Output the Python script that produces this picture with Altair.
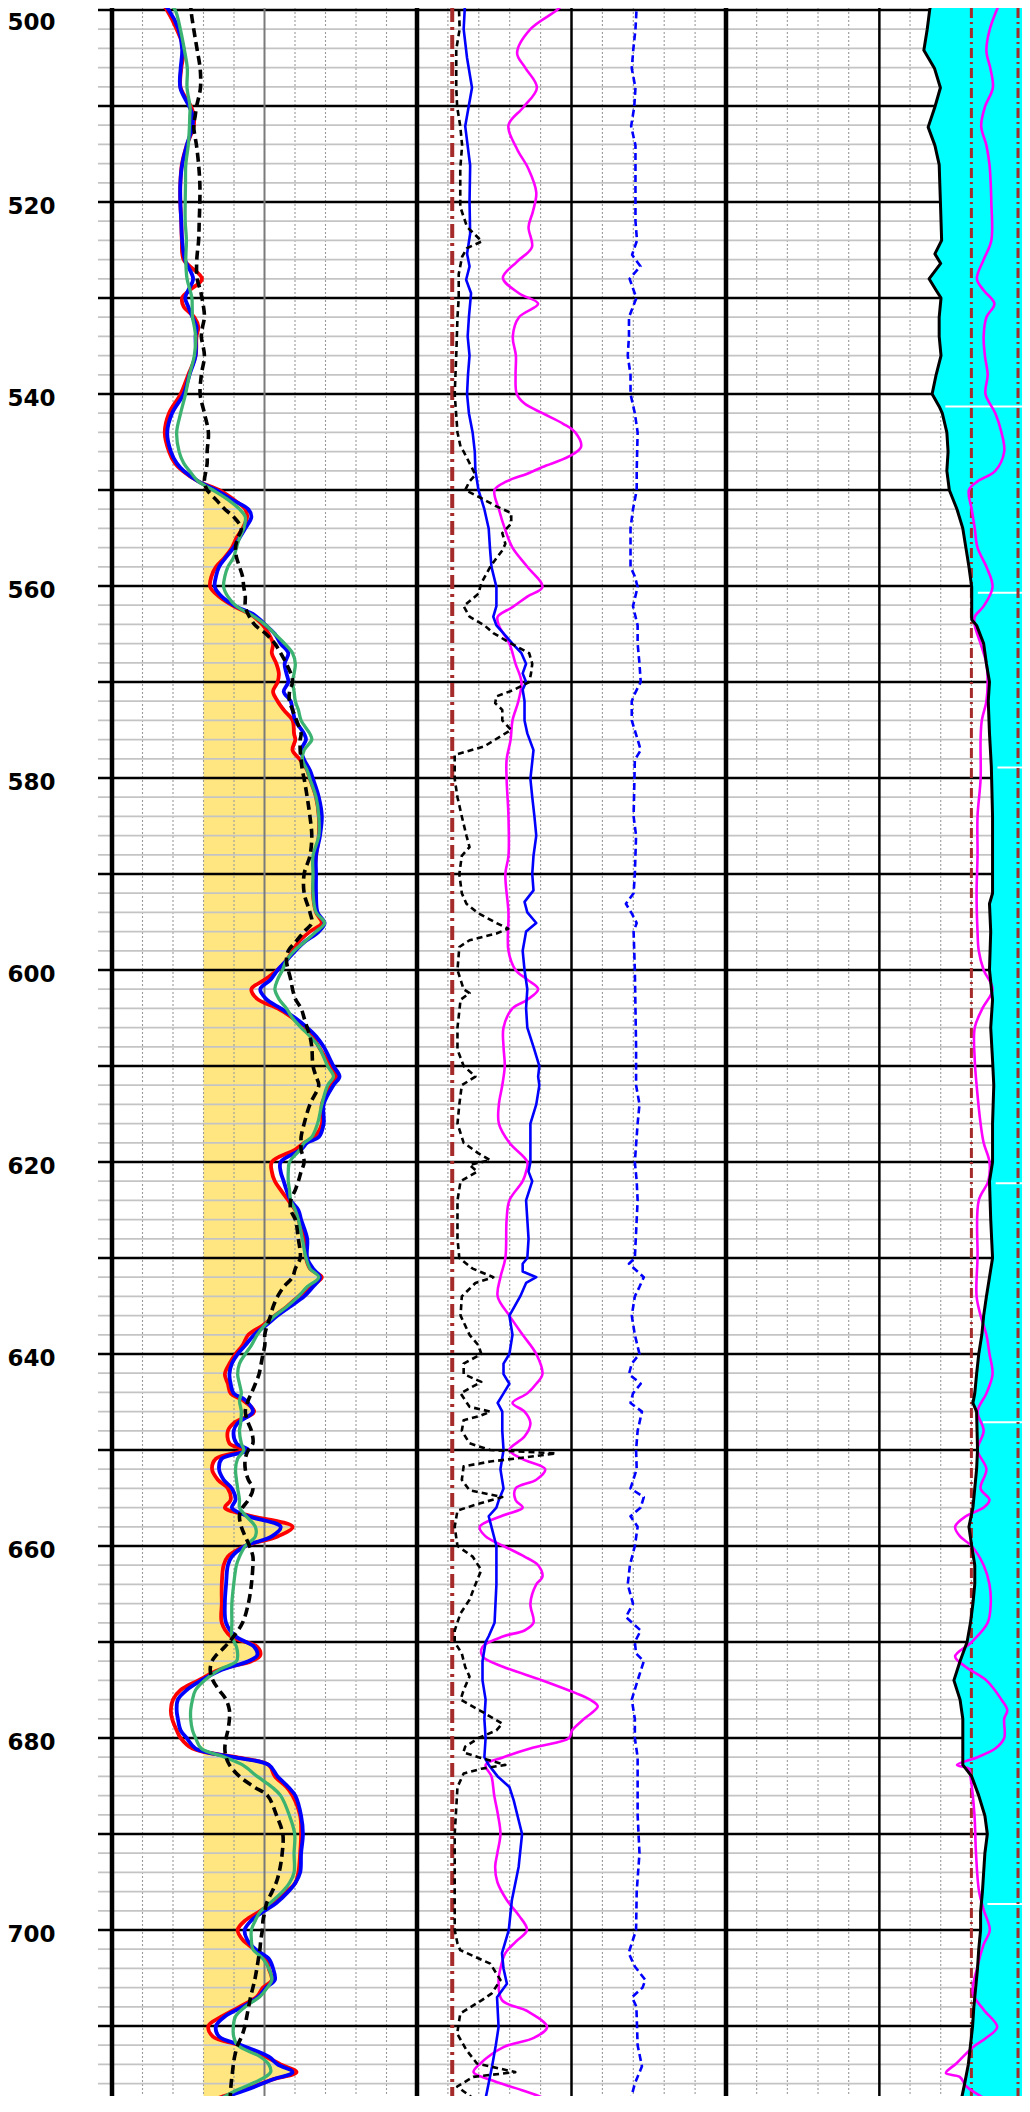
import altair as alt
import numpy as np
import pandas as pd

# ------------------------------------------------------------------
# Log readings. Values are in chart divisions (0-10 across each track).
# ------------------------------------------------------------------
T1_DEPTH = [499.0, 500.0, 502.0, 504.1, 506.1, 508.1, 510.1, 511.0, 512.1, 514.1,
            516.1, 518.1, 520.0, 522.0, 524.0, 526.0, 528.0, 529.2, 530.0, 530.9,
            532.0, 533.0, 534.0, 536.0, 538.0, 540.0, 542.0, 544.0, 546.0, 547.2,
            548.0, 549.1, 550.0, 551.0, 552.0, 552.8, 554.0, 555.0, 556.0, 557.0,
            558.0, 559.0, 560.1, 561.1, 562.1, 563.0, 564.1, 565.0, 566.0, 567.0,
            568.1, 569.1, 570.0, 571.0, 572.0, 572.9, 574.0, 575.4, 576.0, 577.1,
            578.1, 579.2, 580.1, 582.0, 584.0, 586.0, 588.1, 590.0, 592.0, 594.0,
            595.1, 596.0, 597.1, 598.0, 599.0, 600.0, 601.0, 602.0, 603.0, 604.0,
            605.0, 606.0, 606.9, 608.0, 610.0, 611.1, 612.0, 614.0, 616.0, 617.4,
            618.0, 618.7, 620.0, 621.0, 622.0, 622.9, 624.0, 625.0, 626.0, 628.0,
            630.0, 631.1, 632.0, 633.0, 634.0, 635.1, 636.0, 637.0, 638.0, 639.1,
            640.0, 641.0, 642.1, 643.1, 644.1, 644.8, 646.0, 647.2, 648.0, 649.3,
            650.0, 650.9, 652.0, 653.1, 654.0, 655.2, 656.0, 656.8, 658.0, 659.0,
            660.0, 661.1, 662.0, 664.0, 666.0, 668.0, 669.4, 670.5, 671.4, 672.0,
            672.9, 674.0, 675.0, 676.0, 677.1, 678.0, 679.2, 680.0, 681.1, 682.0,
            682.8, 684.0, 685.1, 686.0, 688.1, 690.0, 692.0, 694.0, 695.1, 696.0,
            697.2, 698.1, 699.0, 700.0, 701.0, 702.0, 703.0, 704.0, 705.2, 706.0,
            706.9, 708.0, 709.0, 710.0, 711.1, 712.0, 713.2, 714.0, 714.8, 715.6,
            716.7, 717.7, 718.75]

T1_RED = [1.58, 1.80, 2.12, 2.35, 2.27, 2.25, 2.60, 2.68, 2.68, 2.45,
          2.29, 2.24, 2.24, 2.27, 2.29, 2.35, 2.95, 2.54, 2.30, 2.35,
          2.70, 2.83, 2.77, 2.74, 2.50, 2.25, 1.87, 1.73, 1.87, 2.06,
          2.31, 2.83, 3.51, 3.99, 4.37, 4.43, 4.28, 4.08, 3.93, 3.70,
          3.41, 3.26, 3.22, 3.51, 3.99, 4.57, 4.95, 5.14, 5.28, 5.24,
          5.39, 5.47, 5.43, 5.28, 5.43, 5.63, 5.92, 5.97, 6.01, 5.92,
          6.17, 6.40, 6.49, 6.69, 6.78, 6.78, 6.69, 6.63, 6.59, 6.69,
          6.88, 6.49, 6.11, 5.92, 5.72, 5.43, 5.01, 4.57, 4.76, 5.43,
          5.92, 6.30, 6.59, 6.78, 7.17, 7.36, 7.17, 6.88, 6.88, 6.63,
          6.30, 6.01, 5.24, 5.24, 5.34, 5.53, 5.78, 6.01, 6.11, 6.30,
          6.36, 6.49, 6.88, 6.49, 6.11, 5.72, 5.34, 4.95, 4.47, 4.28,
          4.05, 3.85, 3.70, 3.80, 3.89, 4.28, 4.66, 3.99, 3.80, 3.85,
          4.28, 3.41, 3.28, 3.47, 3.80, 3.89, 3.70, 4.47, 5.92, 5.43,
          4.37, 3.80, 3.66, 3.60, 3.60, 3.60, 3.89, 4.76, 4.86, 4.57,
          3.51, 2.83, 2.25, 2.00, 1.93, 1.97, 2.12, 2.25, 2.64, 4.08,
          5.14, 5.34, 5.72, 5.92, 6.17, 6.20, 6.17, 6.11, 6.01, 5.72,
          5.24, 4.82, 4.37, 4.12, 4.28, 4.66, 5.05, 5.14, 5.24, 4.95,
          4.76, 4.18, 3.60, 3.16, 3.31, 4.18, 5.05, 5.53, 6.05, 5.24,
          4.28, 3.31, 2.54]

T1_BLUE = [1.58, 1.86, 2.18, 2.30, 2.25, 2.24, 2.54, 2.64, 2.64, 2.45,
           2.30, 2.24, 2.24, 2.27, 2.30, 2.39, 2.66, 2.50, 2.40, 2.50,
           2.64, 2.77, 2.74, 2.74, 2.54, 2.35, 1.97, 1.81, 1.93, 2.12,
           2.35, 2.83, 3.41, 3.93, 4.47, 4.57, 4.37, 4.18, 3.99, 3.74,
           3.51, 3.41, 3.37, 3.60, 4.05, 4.66, 5.05, 5.34, 5.53, 5.78,
           5.66, 5.72, 5.78, 5.63, 5.86, 5.92, 6.01, 6.30, 6.36, 6.20,
           6.30, 6.49, 6.59, 6.78, 6.88, 6.82, 6.69, 6.69, 6.69, 6.74,
           6.97, 6.78, 6.30, 6.01, 5.72, 5.43, 5.20, 4.86, 5.05, 5.53,
           6.01, 6.40, 6.69, 6.94, 7.26, 7.46, 7.26, 6.94, 6.94, 6.78,
           6.40, 6.20, 5.53, 5.53, 5.63, 5.72, 5.86, 6.11, 6.20, 6.40,
           6.40, 6.59, 6.82, 6.59, 6.30, 5.82, 5.43, 5.05, 4.66, 4.37,
           4.12, 3.93, 3.85, 3.89, 3.99, 4.37, 4.62, 4.12, 3.99, 4.08,
           4.47, 3.60, 3.51, 3.66, 3.93, 4.05, 3.93, 4.37, 5.53, 5.24,
           4.37, 3.93, 3.80, 3.74, 3.70, 3.74, 4.05, 4.66, 4.76, 4.47,
           3.60, 2.93, 2.45, 2.16, 2.12, 2.16, 2.25, 2.45, 2.74, 3.99,
           5.14, 5.43, 5.78, 6.01, 6.20, 6.26, 6.20, 6.17, 6.01, 5.78,
           5.38, 4.95, 4.57, 4.35, 4.43, 4.70, 5.14, 5.28, 5.34, 5.05,
           4.82, 4.28, 3.70, 3.41, 3.51, 4.24, 5.14, 5.43, 5.92, 5.24,
           4.37, 3.41, 2.64]

T1_GREEN = [1.81, 2.07, 2.24, 2.37, 2.47, 2.46, 2.56, 2.55, 2.54, 2.50,
            2.42, 2.41, 2.40, 2.40, 2.44, 2.42, 2.46, 2.56, 2.62, 2.63,
            2.64, 2.70, 2.74, 2.70, 2.54, 2.41, 2.25, 2.12, 2.20, 2.35,
            2.54, 2.83, 3.31, 3.80, 4.18, 4.37, 4.32, 4.18, 4.08, 3.99,
            3.80, 3.70, 3.66, 3.80, 4.08, 4.57, 5.05, 5.34, 5.66, 5.92,
            6.01, 5.97, 5.92, 5.97, 6.01, 6.11, 6.20, 6.49, 6.55, 6.30,
            6.24, 6.40, 6.49, 6.69, 6.78, 6.78, 6.59, 6.59, 6.59, 6.69,
            6.97, 6.69, 6.30, 5.97, 5.72, 5.59, 5.43, 5.34, 5.47, 5.72,
            5.92, 6.20, 6.49, 6.78, 7.07, 7.26, 7.07, 6.88, 6.74, 6.55,
            6.30, 6.17, 5.82, 5.78, 5.78, 5.82, 5.86, 6.01, 6.11, 6.24,
            6.36, 6.49, 6.78, 6.40, 6.11, 5.72, 5.34, 5.01, 4.76, 4.57,
            4.37, 4.18, 4.12, 4.18, 4.24, 4.18, 4.24, 4.22, 4.18, 4.24,
            4.32, 4.12, 4.05, 4.08, 4.12, 4.18, 4.18, 4.37, 4.70, 4.70,
            4.37, 4.18, 4.08, 3.99, 3.93, 3.93, 3.93, 4.08, 4.12, 4.08,
            3.51, 3.03, 2.74, 2.64, 2.58, 2.58, 2.64, 2.74, 2.93, 3.70,
            4.28, 4.76, 5.24, 5.53, 5.82, 5.99, 5.97, 5.97, 5.82, 5.59,
            5.18, 4.86, 4.70, 4.57, 4.57, 4.62, 4.95, 5.14, 5.24, 5.09,
            4.86, 4.37, 4.05, 3.98, 3.99, 4.12, 4.86, 5.14, 5.20, 4.86,
            4.08, 3.51, 3.08]

T1_BLACK = [2.58, 2.59, 2.68, 2.79, 2.89, 2.90, 2.77, 2.73, 2.68, 2.77,
            2.84, 2.88, 2.88, 2.86, 2.84, 2.78, 2.79, 2.90, 2.95, 3.00,
            3.03, 2.97, 2.93, 3.03, 2.93, 2.89, 3.03, 3.16, 3.12, 3.12,
            3.08, 3.03, 3.12, 3.41, 3.70, 3.99, 4.24, 4.12, 4.05, 4.08,
            4.18, 4.28, 4.32, 4.37, 4.37, 4.47, 4.70, 5.05, 5.34, 5.53,
            5.72, 5.86, 5.92, 5.82, 5.82, 5.92, 6.05, 6.20, 6.17, 6.17,
            6.20, 6.24, 6.30, 6.40, 6.49, 6.55, 6.49, 6.30, 6.30, 6.49,
            6.55, 6.30, 6.01, 5.78, 5.72, 5.78, 5.86, 5.92, 6.01, 6.20,
            6.30, 6.40, 6.49, 6.55, 6.59, 6.69, 6.78, 6.49, 6.30, 6.20,
            6.20, 6.20, 6.30, 6.20, 6.11, 6.01, 5.86, 5.86, 6.01, 6.11,
            6.17, 6.01, 5.92, 5.63, 5.43, 5.28, 5.20, 5.09, 5.01, 5.01,
            4.95, 4.89, 4.82, 4.70, 4.57, 4.47, 4.37, 4.47, 4.57, 4.62,
            4.47, 4.37, 4.37, 4.47, 4.62, 4.47, 4.28, 4.18, 4.24, 4.37,
            4.51, 4.62, 4.62, 4.57, 4.47, 4.28, 3.99, 3.70, 3.41, 3.28,
            3.22, 3.31, 3.51, 3.74, 3.85, 3.85, 3.80, 3.74, 3.70, 3.74,
            3.85, 4.18, 4.66, 5.10, 5.40, 5.60, 5.58, 5.48, 5.38, 5.25,
            5.07, 5.01, 4.95, 4.93, 4.88, 4.85, 4.80, 4.75, 4.68, 4.62,
            4.55, 4.48, 4.42, 4.36, 4.25, 4.12, 4.02, 3.98, 3.95, 3.92,
            3.89, 3.88, 3.93]

SAND_CUTOFF = 3.0

# Track 2 curves: (depth, divisions)
T2_BLACK_DASH = [
    (499.0, 1.35), (502.0, 1.38), (504.1, 1.27), (506.1, 1.27), (508.1, 1.27), (510.1, 1.30),
    (512.1, 1.40), (514.1, 1.46), (516.5, 1.40), (520.5, 1.40), (522.6, 1.62), (524.1, 2.10),
    (524.8, 1.62), (525.7, 1.46), (527.5, 1.35), (530.0, 1.35), (532.0, 1.31), (536.0, 1.27),
    (540.0, 1.22), (544.0, 1.31), (545.5, 1.41), (546.0, 1.51), (547.2, 1.70), (548.4, 1.89),
    (549.1, 1.70), (550.0, 1.56), (550.7, 1.99), (551.7, 2.57), (552.4, 3.05), (553.5, 3.05),
    (554.5, 2.76), (555.6, 2.86), (556.3, 2.76), (557.1, 2.57), (558.0, 2.37), (559.7, 2.08),
    (560.8, 1.99), (562.1, 1.51), (563.2, 1.70), (564.1, 2.18), (564.9, 2.47), (566.0, 3.05),
    (567.0, 3.63), (568.1, 3.73), (569.1, 3.69), (570.0, 3.63), (570.8, 3.15), (571.5, 2.57),
    (572.2, 2.53), (572.9, 2.76), (574.0, 2.76), (575.0, 3.05), (575.35, 2.86), (576.7, 2.18),
    (577.6, 1.22), (580.1, 1.22), (582.0, 1.31), (584.0, 1.45), (586.0, 1.60), (587.2, 1.70),
    (588.1, 1.45), (590.0, 1.37), (592.0, 1.45), (593.1, 1.60), (594.1, 1.99), (595.1, 2.57),
    (595.7, 2.95), (596.2, 2.57), (596.9, 1.70), (597.6, 1.37), (600.0, 1.31), (602.0, 1.51),
    (602.4, 1.70), (603.1, 1.41), (606.0, 1.31), (608.3, 1.31), (610.0, 1.51), (611.1, 1.89),
    (612.0, 1.45), (614.0, 1.37), (616.0, 1.31), (618.0, 1.51), (619.1, 1.99), (619.8, 2.37),
    (620.3, 1.70), (621.0, 1.95), (622.0, 1.41), (624.0, 1.31), (628.0, 1.31), (630.0, 1.37),
    (631.1, 1.80), (632.0, 2.47), (632.6, 1.89), (634.0, 1.45), (636.0, 1.41), (638.0, 1.70),
    (639.1, 1.99), (640.0, 2.08), (641.0, 1.51), (642.1, 1.51), (642.9, 2.08), (643.4, 1.80),
    (644.1, 1.41), (645.5, 1.70), (646.0, 2.37), (646.5, 1.99), (646.9, 1.51), (648.0, 1.45),
    (649.3, 1.70), (650.0, 2.37), (650.35, 4.50), (650.9, 3.15), (651.2, 2.37), (651.7, 1.51),
    (653.1, 1.45), (654.2, 1.70), (654.9, 2.76), (655.6, 1.99), (656.3, 1.31), (658.0, 1.22),
    (660.0, 1.31), (661.1, 1.80), (662.5, 2.08), (664.0, 1.89), (665.6, 1.70), (667.0, 1.41),
    (668.8, 1.22), (670.0, 1.22), (671.2, 1.45), (672.6, 1.56), (673.6, 1.70), (675.0, 1.51),
    (676.0, 1.41), (677.4, 2.18), (678.5, 2.76), (679.2, 2.57), (680.0, 1.99), (680.9, 1.56),
    (681.5, 1.50), (682.0, 1.99), (682.8, 2.86), (683.2, 2.08), (683.7, 1.51), (685.1, 1.31),
    (690.0, 1.22), (700.0, 1.22), (701.4, 1.31), (702.1, 1.40), (703.5, 2.37), (705.2, 2.70),
    (706.6, 2.42), (707.3, 2.10), (708.7, 1.40), (710.8, 1.30), (712.5, 1.60), (713.9, 1.94),
    (714.8, 3.18), (715.3, 1.82), (716.3, 1.30), (718.1, 2.05), (718.9, 2.10),
]

T2_BLUE = [
    (499.0, 1.56), (502.0, 1.51), (505.0, 1.62), (508.1, 1.78), (510.1, 1.67), (512.1, 1.56),
    (516.2, 1.72), (520.0, 1.70), (523.3, 1.72), (525.4, 1.62), (526.7, 1.70), (528.1, 1.59),
    (529.5, 1.75), (532.0, 1.68), (534.0, 1.64), (536.0, 1.70), (538.0, 1.65), (540.0, 1.62),
    (542.0, 1.68), (544.0, 1.80), (546.0, 1.87), (548.0, 1.89), (550.0, 1.99), (552.0, 2.18),
    (554.0, 2.32), (556.0, 2.36), (558.0, 2.41), (560.1, 2.57), (562.1, 2.57), (563.2, 2.47),
    (564.1, 2.57), (566.0, 3.09), (567.0, 3.38), (568.1, 3.53), (569.1, 3.42), (570.0, 3.53),
    (570.8, 3.42), (572.0, 3.48), (574.0, 3.48), (575.35, 3.57), (577.1, 3.77), (580.1, 3.67),
    (582.0, 3.73), (584.0, 3.80), (586.0, 3.86), (588.1, 3.77), (590.0, 3.73), (591.7, 3.77),
    (592.9, 3.48), (594.0, 3.57), (595.1, 3.86), (596.0, 3.53), (598.0, 3.42), (600.0, 3.48),
    (602.0, 3.57), (604.0, 3.53), (606.0, 3.57), (608.0, 3.77), (610.0, 3.96), (611.1, 3.92),
    (612.0, 3.96), (614.0, 3.86), (616.0, 3.67), (620.0, 3.67), (621.0, 3.61), (622.0, 3.73),
    (624.0, 3.53), (626.0, 3.57), (628.0, 3.61), (630.0, 3.57), (630.6, 3.42), (631.4, 3.42),
    (632.0, 3.86), (632.6, 3.53), (634.0, 3.34), (636.0, 2.99), (638.0, 3.09), (640.0, 2.99),
    (641.0, 2.80), (642.1, 2.80), (643.1, 2.99), (644.1, 2.80), (645.1, 2.61), (646.0, 2.76),
    (648.0, 2.76), (650.0, 2.80), (652.0, 2.70), (654.0, 2.80), (655.2, 2.65), (656.0, 2.57),
    (656.9, 2.32), (658.0, 2.41), (660.0, 2.57), (664.0, 2.57), (668.0, 2.51), (669.4, 2.32),
    (670.0, 2.22), (672.0, 2.12), (674.0, 2.12), (676.0, 2.22), (678.0, 2.18), (680.0, 2.22),
    (682.0, 2.18), (682.8, 2.32), (684.0, 2.61), (685.1, 2.99), (686.5, 3.13), (690.0, 3.40),
    (693.4, 3.29), (696.9, 3.07), (700.0, 2.97), (702.4, 2.75), (704.0, 2.80), (705.6, 2.91),
    (707.0, 2.59), (710.1, 2.64), (712.0, 2.55), (714.2, 2.43), (717.7, 2.21), (718.9, 2.18),
]

T2_MAGENTA = [
    (499.0, 4.85), (500.0, 4.53), (502.0, 3.67), (504.5, 3.24), (506.0, 3.50), (508.1, 3.88),
    (510.1, 3.45), (512.0, 2.96), (514.5, 3.24), (516.5, 3.60), (519.0, 3.86), (521.0, 3.75),
    (522.6, 3.61), (524.7, 3.72), (526.2, 3.24), (527.9, 2.78), (529.5, 3.30), (530.6, 3.92),
    (532.0, 3.30), (534.0, 3.10), (536.0, 3.20), (538.0, 3.19), (540.0, 3.23), (541.0, 3.48),
    (542.0, 4.06), (543.1, 4.73), (544.0, 5.12), (545.5, 5.31), (546.5, 4.92), (547.6, 4.06),
    (548.3, 3.57), (549.1, 2.90), (550.0, 2.51), (552.0, 2.65), (554.0, 2.84), (556.0, 3.09),
    (558.0, 3.57), (560.1, 4.06), (561.1, 3.57), (562.2, 3.09), (563.2, 2.61), (564.1, 2.65),
    (566.0, 2.99), (568.1, 3.19), (570.0, 3.38), (572.0, 3.28), (574.0, 3.09), (576.0, 3.03),
    (578.1, 2.90), (580.1, 2.90), (584.0, 2.96), (588.1, 2.96), (590.0, 2.86), (594.0, 2.96),
    (598.0, 2.96), (600.0, 3.19), (601.0, 3.57), (602.0, 3.92), (603.1, 3.57), (604.0, 3.09),
    (606.0, 2.80), (608.0, 2.80), (610.0, 2.84), (612.0, 2.76), (614.0, 2.65), (616.0, 2.65),
    (618.0, 2.99), (620.0, 3.57), (621.0, 3.53), (622.0, 3.42), (624.0, 2.99), (626.0, 2.90),
    (630.0, 2.86), (632.0, 2.70), (634.0, 2.61), (636.0, 2.99), (638.0, 3.42), (640.0, 3.86),
    (642.1, 4.06), (643.1, 3.86), (644.1, 3.57), (645.1, 3.09), (646.0, 3.48), (647.2, 3.67),
    (648.6, 3.48), (650.0, 2.99), (650.9, 3.38), (652.0, 4.15), (653.1, 3.86), (654.0, 3.19),
    (655.2, 3.19), (656.0, 3.42), (656.8, 2.80), (658.0, 2.03), (659.0, 2.22), (660.0, 2.80),
    (661.1, 3.48), (662.0, 3.92), (663.2, 4.06), (664.0, 3.86), (666.0, 3.67), (668.0, 3.77),
    (668.8, 3.48), (669.4, 2.80), (670.5, 2.12), (671.5, 2.12), (672.6, 2.80), (674.0, 4.06),
    (675.3, 5.12), (676.0, 5.60), (676.7, 5.85), (678.0, 5.41), (679.2, 5.02), (680.0, 4.92),
    (681.0, 3.77), (682.0, 2.80), (682.8, 2.22), (684.0, 2.41), (686.0, 2.50), (688.0, 2.62),
    (690.0, 2.70), (692.0, 2.60), (693.4, 2.53), (695.0, 2.60), (696.9, 2.91), (698.5, 3.30),
    (700.0, 3.56), (701.2, 3.20), (702.4, 2.86), (704.0, 2.70), (705.2, 2.64), (707.3, 2.75),
    (708.5, 3.60), (710.1, 4.21), (711.2, 3.80), (712.2, 2.80), (713.9, 2.05), (714.8, 1.83),
    (715.6, 2.37), (716.7, 3.40), (717.7, 4.21), (718.9, 4.62),
]

T2_BLUE_DASH = [
    (499.0, 7.12), (502.0, 7.07), (504.1, 7.00), (506.1, 6.95), (508.1, 7.07), (510.1, 7.03),
    (512.1, 6.93), (514.1, 7.07), (518.0, 7.07), (522.0, 7.07), (524.0, 7.12), (525.5, 6.96),
    (526.7, 7.23), (528.0, 6.88), (530.0, 7.10), (532.0, 6.86), (534.0, 6.86), (536.0, 6.82),
    (538.0, 6.91), (540.0, 6.91), (542.0, 7.05), (544.0, 7.14), (548.0, 7.11), (550.0, 7.11),
    (552.0, 6.99), (554.0, 6.91), (558.0, 6.91), (559.0, 7.05), (560.1, 7.14), (562.1, 6.99),
    (564.1, 7.14), (566.0, 7.14), (568.1, 7.20), (570.0, 7.24), (571.2, 7.05), (572.0, 6.95),
    (574.0, 6.95), (576.0, 7.14), (577.1, 7.24), (578.1, 7.05), (584.0, 7.01), (586.0, 7.09),
    (590.0, 7.05), (592.0, 7.01), (593.1, 6.76), (594.1, 6.95), (595.1, 7.11), (596.0, 7.01),
    (600.0, 7.05), (608.0, 7.09), (612.0, 7.09), (614.0, 7.20), (616.0, 7.14), (620.0, 7.05),
    (622.0, 7.11), (624.0, 7.14), (630.0, 7.05), (630.6, 6.86), (632.0, 7.34), (633.0, 7.20),
    (634.0, 7.05), (636.0, 6.95), (638.0, 7.05), (640.0, 7.20), (641.0, 6.95), (642.1, 6.86),
    (643.1, 7.24), (644.1, 6.99), (645.1, 6.91), (646.0, 7.28), (648.0, 7.14), (650.0, 7.09),
    (652.0, 7.11), (654.0, 6.91), (654.9, 7.34), (656.0, 7.24), (656.9, 6.91), (658.0, 7.14),
    (660.0, 7.05), (662.0, 6.89), (664.0, 6.82), (666.0, 6.99), (667.4, 6.76), (668.8, 7.24),
    (670.0, 7.05), (671.2, 7.09), (672.0, 7.34), (674.0, 7.14), (676.0, 6.95), (678.0, 7.05),
    (680.0, 7.05), (682.0, 7.14), (684.0, 7.14), (688.0, 7.14), (692.0, 7.20), (696.0, 7.11),
    (700.0, 7.09), (702.4, 6.85), (703.8, 7.05), (705.2, 7.39), (706.0, 7.30), (707.0, 6.96),
    (708.0, 7.10), (712.0, 7.14), (714.2, 7.28), (716.0, 7.05), (717.8, 6.90), (718.9, 6.92),
]

T2_REFERENCE = [1.14]          # constant brown dash-dot curve in track 2
T3_REFERENCE = [8.0, 9.52]     # constant brown dash-dot curves in track 3

T3_BLACK = [
    (499.0, 6.70), (500.0, 6.64), (502.0, 6.56), (504.2, 6.45), (506.1, 6.80), (508.1, 6.99),
    (510.1, 6.81), (512.2, 6.59), (514.1, 6.81), (516.1, 6.95), (518.1, 6.97), (520.0, 6.99),
    (524.0, 7.03), (525.4, 6.81), (526.4, 7.00), (528.0, 6.62), (529.2, 6.85), (530.0, 7.01),
    (532.0, 6.95), (534.0, 6.95), (536.0, 7.01), (538.0, 6.85), (540.0, 6.72), (541.3, 6.95),
    (542.0, 7.05), (544.0, 7.20), (546.0, 7.24), (548.0, 7.20), (550.0, 7.28), (552.0, 7.53),
    (554.0, 7.72), (556.0, 7.82), (558.0, 7.92), (560.1, 8.01), (563.5, 8.01), (564.1, 8.17),
    (566.0, 8.40), (568.1, 8.49), (570.0, 8.59), (572.0, 8.55), (575.35, 8.59), (578.8, 8.65),
    (584.0, 8.69), (592.0, 8.69), (593.1, 8.59), (596.0, 8.63), (600.0, 8.59), (603.1, 8.69),
    (606.0, 8.63), (609.4, 8.69), (612.0, 8.73), (616.0, 8.69), (620.0, 8.69), (622.0, 8.59),
    (626.0, 8.63), (630.0, 8.69), (632.0, 8.59), (634.0, 8.49), (636.0, 8.40), (638.0, 8.34),
    (640.0, 8.24), (642.1, 8.17), (644.1, 8.11), (645.1, 8.05), (646.0, 8.17), (650.0, 8.20),
    (652.0, 8.17), (654.0, 8.11), (656.0, 8.05), (658.0, 7.92), (660.0, 8.01), (662.0, 8.11),
    (664.0, 8.11), (666.0, 8.05), (668.0, 7.97), (670.0, 7.86), (672.0, 7.63), (674.0, 7.43),
    (676.0, 7.63), (678.0, 7.72), (682.8, 7.72), (684.0, 8.01), (686.0, 8.24), (688.1, 8.44),
    (690.0, 8.52), (692.0, 8.44), (694.0, 8.40), (696.0, 8.36), (698.1, 8.30), (700.0, 8.30),
    (702.0, 8.24), (704.0, 8.20), (706.0, 8.14), (708.0, 8.08), (710.0, 8.04), (712.0, 7.97),
    (714.0, 7.90), (716.0, 7.78), (718.0, 7.65), (718.9, 7.60),
]

T3_MAGENTA = [
    (499.0, 8.96), (502.0, 8.60), (504.3, 8.49), (506.1, 8.62), (508.1, 8.70), (510.1, 8.44),
    (512.1, 8.32), (514.1, 8.49), (516.1, 8.59), (518.1, 8.63), (520.0, 8.65), (524.0, 8.65),
    (526.0, 8.40), (528.0, 8.18), (529.2, 8.40), (530.6, 8.75), (532.0, 8.49), (534.0, 8.40),
    (536.0, 8.44), (538.0, 8.53), (540.0, 8.46), (542.0, 8.78), (544.0, 8.98), (546.0, 9.07),
    (548.0, 8.78), (549.1, 8.20), (550.0, 7.92), (552.0, 8.01), (554.0, 8.11), (556.0, 8.20),
    (558.0, 8.49), (560.1, 8.69), (562.1, 8.40), (563.2, 8.11), (564.1, 8.11), (566.0, 8.30),
    (568.1, 8.49), (570.0, 8.53), (572.0, 8.49), (574.0, 8.34), (576.0, 8.30), (580.1, 8.30),
    (584.0, 8.20), (588.1, 8.20), (592.0, 8.17), (596.0, 8.20), (598.0, 8.24), (600.0, 8.40),
    (602.0, 8.69), (604.0, 8.36), (606.0, 8.11), (609.4, 8.11), (612.0, 8.17), (616.0, 8.30),
    (618.0, 8.40), (620.0, 8.59), (622.0, 8.55), (624.0, 8.24), (630.0, 8.20), (634.0, 8.17),
    (636.0, 8.30), (638.0, 8.49), (640.0, 8.59), (642.1, 8.69), (644.1, 8.49), (646.0, 8.20),
    (648.0, 8.40), (650.0, 8.20), (652.0, 8.49), (654.0, 8.30), (655.2, 8.59), (656.0, 8.40),
    (656.9, 7.82), (658.0, 7.47), (659.0, 7.63), (660.0, 8.01), (662.0, 8.40), (664.0, 8.59),
    (666.0, 8.63), (668.0, 8.53), (670.0, 8.01), (671.5, 7.47), (672.6, 7.82), (674.0, 8.49),
    (676.0, 8.98), (677.1, 9.17), (678.0, 9.07), (680.0, 9.07), (681.1, 8.78), (682.0, 8.20),
    (682.8, 7.53), (683.2, 7.92), (684.0, 7.97), (688.0, 8.10), (692.0, 8.15), (696.0, 8.25),
    (697.9, 8.40), (700.0, 8.60), (701.5, 8.40), (703.8, 8.20), (706.6, 8.05), (708.3, 8.40),
    (710.1, 8.84), (711.2, 8.50), (712.2, 8.05), (713.9, 7.51), (714.9, 7.17), (715.3, 7.62),
    (716.3, 7.84), (717.3, 8.30), (718.4, 8.82), (718.9, 8.95),
]

# thin white breaks visible across the track-3 fill
FILL_BREAK_DEPTHS = [541.3, 560.7, 578.9, 622.2, 647.1, 697.3]

# ------------------------------------------------------------------
# Layout
# ------------------------------------------------------------------
W, H = 910, 2088
DEPTH_TOP, DEPTH_BASE = 499.79, 717.29
LABEL_DEPTHS = list(range(500, 701, 20))

X_SCALE = alt.Scale(domain=[0, 10, 20, 29.65], range=[0, 305, 614, 910], nice=False, zero=False)
Y_SCALE = alt.Scale(domain=[DEPTH_TOP, DEPTH_BASE], reverse=True, nice=False, zero=False)
Y_AXIS = alt.Axis(values=LABEL_DEPTHS, format="d", labelFont="DejaVu Sans", labelFontSize=23,
                  labelFontWeight="bold", labelColor="#000000", ticks=False, tickSize=0,
                  domain=False, grid=False, labelPadding=57, labelAlign="right",
                  labelBaseline="middle",
                  labelOffset={"condition": {"test": "datum.value == 500", "value": 12}, "value": 4},
                  title="")


def X(field="x"):
    return alt.X(f"{field}:Q", scale=X_SCALE, axis=None)


def Y():
    return alt.Y("depth:Q", scale=Y_SCALE, axis=Y_AXIS, title="")


def pairs_frame(pairs, offset):
    return pd.DataFrame({"depth": [p[0] for p in pairs], "x": [p[1] + offset for p in pairs]})


def list_frame(depths, values, offset):
    n = min(len(depths), len(values))
    return pd.DataFrame({"depth": depths[:n], "x": [v + offset for v in values[:n]]})


def curve(df, color, width, dash=None, interp="linear"):
    kw = dict(color=color, strokeWidth=width, interpolate=interp, clip=True, strokeJoin="round")
    if dash:
        kw["strokeDash"] = dash
    return alt.Chart(df).mark_line(**kw).encode(x=X(), y=Y(), order=alt.Order("depth:Q"))


# grid data
minor_depths = pd.DataFrame({"depth": [d for d in range(500, 718, 2) if d % 10]})
major_depths = pd.DataFrame({"depth": list(range(500, 718, 10))})
minor_x = pd.DataFrame({"x": [t * 10 + i for t in range(3) for i in range(1, 10) if i != 5]})
mid_gray = pd.DataFrame({"x": [5]})
mid_black = pd.DataFrame({"x": [15, 25]})
borders = pd.DataFrame({"x": [0, 10, 20]})

# track 1 fill
n1 = min(len(T1_DEPTH), len(T1_RED))
sand_df = pd.DataFrame({"depth": T1_DEPTH[:n1], "red": T1_RED[:n1]})
sand_df["base"] = SAND_CUTOFF
sand_df["edge"] = sand_df["red"].clip(lower=SAND_CUTOFF)
sand = alt.Chart(sand_df).mark_area(orient="horizontal", color="#FFE680", interpolate="catmull-rom",
                                    clip=True).encode(y=Y(), x=X("base"), x2=alt.X2("edge:Q"))

layers = [sand]

layers.append(alt.Chart(minor_x).mark_rule(color="#9a9a9a", strokeWidth=1.1, strokeDash=[2, 2]).encode(x=X()))
layers.append(alt.Chart(minor_depths).mark_rule(color="#c4c4c4", strokeWidth=1.8).encode(
    y=Y(), x=alt.value(-14), x2=alt.value(W)))
layers.append(alt.Chart(major_depths).mark_rule(color="#000000", strokeWidth=2.5).encode(
    y=Y(), x=alt.value(-14), x2=alt.value(W)))
layers.append(alt.Chart(mid_gray).mark_rule(color="#7a7a7a", strokeWidth=2).encode(x=X()))
layers.append(alt.Chart(mid_black).mark_rule(color="#000000", strokeWidth=2.5).encode(x=X()))
layers.append(alt.Chart(borders).mark_rule(color="#000000", strokeWidth=4.5).encode(x=X()))

# track 3
t3_black = pairs_frame(T3_BLACK, 20)
t3_black["edge"] = 30
layers.append(alt.Chart(t3_black).mark_area(orient="horizontal", color="#00FFFF", clip=True).encode(
    y=Y(), x=X(), x2=alt.X2("edge:Q")))
breaks = pd.DataFrame({"depth": FILL_BREAK_DEPTHS})
breaks["x"] = np.interp(breaks["depth"], t3_black["depth"], t3_black["x"]) + 0.2
breaks["edge"] = 30
layers.append(alt.Chart(breaks).mark_rule(color="#ffffff", strokeWidth=2, clip=True).encode(
    y=Y(), x=X(), x2=alt.X2("edge:Q")))
layers.append(alt.Chart(pd.DataFrame({"x": [v + 20 for v in T3_REFERENCE]})).mark_rule(
    color="#A52A2A", strokeWidth=3, strokeDash=[10, 4, 2, 4]).encode(x=X()))
layers.append(curve(pairs_frame(T3_MAGENTA, 20), "#FF00FF", 2.6, interp="catmull-rom"))
layers.append(curve(t3_black[["depth", "x"]], "#000000", 3))

# track 2
layers.append(alt.Chart(pd.DataFrame({"x": [v + 10 for v in T2_REFERENCE]})).mark_rule(
    color="#A52A2A", strokeWidth=4, strokeDash=[14, 5, 3, 5]).encode(x=X()))
layers.append(curve(pairs_frame(T2_MAGENTA, 10), "#FF00FF", 2.6, interp="catmull-rom"))
layers.append(curve(pairs_frame(T2_BLUE, 10), "#0000FF", 2.6))
layers.append(curve(pairs_frame(T2_BLUE_DASH, 10), "#0000FF", 2.6, dash=[7, 4]))
layers.append(curve(pairs_frame(T2_BLACK_DASH, 10), "#000000", 2.6, dash=[6, 4]))

# track 1
layers.append(curve(list_frame(T1_DEPTH, T1_RED, 0), "#FF0000", 3.8, interp="catmull-rom"))
layers.append(curve(list_frame(T1_DEPTH, T1_BLUE, 0), "#0000FF", 3.8, interp="catmull-rom"))
layers.append(curve(list_frame(T1_DEPTH, T1_GREEN, 0), "#3CB371", 3.3, interp="catmull-rom"))
layers.append(curve(list_frame(T1_DEPTH, T1_BLACK, 0), "#000000", 3.6, dash=[9, 5], interp="catmull-rom"))

chart = alt.layer(*layers).properties(
    width=W,
    height=H,
    padding={"left": 104, "top": 0, "right": 0, "bottom": 0},
    autosize=alt.AutoSizeParams(type="none"),
    background="#ffffff",
).configure_view(strokeWidth=0)

chart.save("out.html", embed_options={"renderer": "svg", "actions": False})
